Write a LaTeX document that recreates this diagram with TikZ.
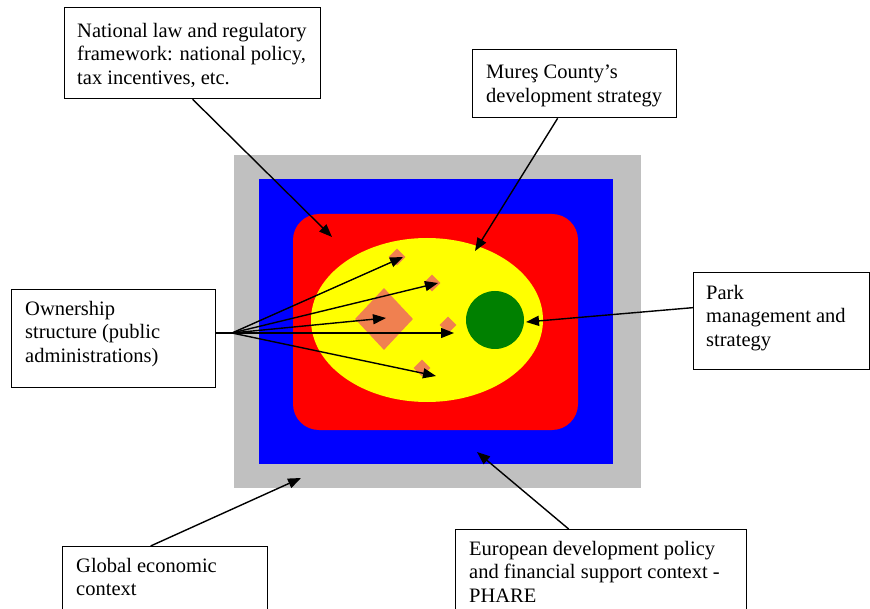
\documentclass[tikz,border=0pt]{standalone}
\usepackage{fontspec}
\setmainfont{Liberation Serif}
\usetikzlibrary{arrows.meta,shapes.geometric,calc}
\definecolor{cgrey}{RGB}{192,192,192}
\definecolor{cblue}{RGB}{0,0,255}
\definecolor{cred}{RGB}{255,0,0}
\definecolor{cyellow}{RGB}{255,255,0}
\definecolor{cgreen}{RGB}{0,128,0}
\definecolor{corange}{RGB}{240,128,80}
\tikzset{
  box/.style={draw=black, line width=1.3pt, fill=white, inner sep=0pt, anchor=north west},
  txt/.style={inner sep=0pt, anchor=north west, align=left, font=\fontsize{20.5pt}{23.5pt}\selectfont},
  dia/.style={diamond, fill=corange, inner sep=0pt, aspect=1},
  arr/.style={line width=1.4pt, -{Triangle[length=13pt,width=10pt]}},
  ln/.style={line width=1.4pt}
}
\begin{document}
\begin{tikzpicture}[x=1pt,y=-1pt]
\useasboundingbox (0,0) rectangle (870,609);
% nested regions
\fill[cgrey] (234,155) rectangle (641,488);
\fill[cblue] (259,179) rectangle (613,464);
\fill[cred, rounded corners=26pt] (293,214) rectangle (578,430);
\fill[cyellow] (427,320) ellipse [x radius=116, y radius=82];
\fill[cgreen] (495,320) circle [radius=29];
\node[dia, minimum width=58pt, minimum height=62pt] (bigd) at (384,319) {};
\node[dia, minimum width=17pt, minimum height=17pt] (d1) at (397,257) {};
\node[dia, minimum width=17pt, minimum height=17pt] (d2) at (432,283) {};
\node[dia, minimum width=17pt, minimum height=17pt] (d3) at (448,325) {};
\node[dia, minimum width=17pt, minimum height=17pt] (d4) at (422,368) {};
% boxes
\node[box, minimum width=256pt, minimum height=91pt] (nat) at (64,7) {};
\node[txt] (natt) at (77,23) {National law and regulatory\\framework: national policy,\\tax incentives, etc.};
\node[box, minimum width=204pt, minimum height=68pt] (mur) at (472,49) {};
\node[txt] (murt) at (486,65) {Mureş County’s\\development strategy};
\node[box, minimum width=204pt, minimum height=98pt] (own) at (11,289) {};
\node[txt] (ownt) at (25,301) {Ownership\\structure (public\\administrations)};
\node[box, minimum width=176pt, minimum height=97pt] (park) at (693,272) {};
\node[txt] (parkt) at (706,285) {Park\\management and\\strategy};
\node[box, minimum width=205pt, minimum height=80pt] (glob) at (62,546) {};
\node[txt] (globt) at (76,558) {Global economic\\context};
\node[box, minimum width=291pt, minimum height=90pt] (eur) at (455,529) {};
\node[txt] (eurt) at (469,541) {European development policy\\and financial support context -\\PHARE};
% arrow targets
\coordinate (tnat) at (332,237);
\coordinate (tmur) at (475,251);
\coordinate (tpark) at (526,322);
\coordinate (tglob) at (301,478);
\coordinate (teur) at (477,452);
\coordinate (fan) at (232,333);
\coordinate (ta) at (403,257);
\coordinate (tb) at (438,283);
\coordinate (tc) at (386,318);
\coordinate (td) at (454,333);
\coordinate (te) at (436,376);
% connectors
\draw[arr] (nat.south) -- (tnat);
\draw[arr] ([xshift=-17pt]mur.south) -- (tmur);
\draw[arr] ([yshift=13.5pt]park.west) -- (tpark);
\draw[arr] ([xshift=-14.5pt]glob.north) -- (tglob);
\draw[arr] ([xshift=-32.5pt]eur.north) -- (teur);
\draw[ln] (fan -| own.east) -- (fan);
\draw[arr] (fan) -- (ta);
\draw[arr] (fan) -- (tb);
\draw[arr] (fan) -- (tc);
\draw[arr] (fan) -- (td);
\draw[arr] (fan) -- (te);
\end{tikzpicture}
\end{document}
